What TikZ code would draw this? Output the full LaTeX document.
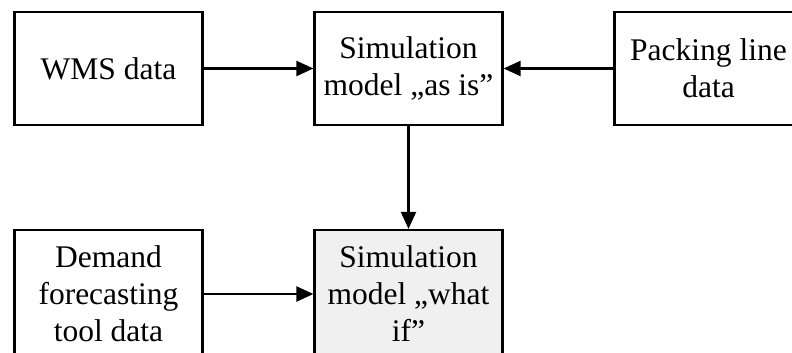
\documentclass[tikz,border=0pt]{standalone}
\usepackage{fontspec}
\setmainfont{Liberation Serif}
\usetikzlibrary{arrows.meta}
\begin{document}
\begin{tikzpicture}[
  block/.style={rectangle, draw, line width=2.2pt, minimum width=188pt, minimum height=113pt, align=center, inner sep=2pt},
  tall/.style={minimum height=128pt},
  link/.style={-{Triangle[length=17pt,width=15pt]}, line width=2.2pt},
  node distance=300pt,
  font=\fontsize{31.5}{37}\selectfont
]
\clip (0,0) rectangle (792pt,-353pt);
\fill[white] (0,0) rectangle (792pt,-353pt);
\node[block] (wms) at (108.5pt,-68.5pt) {WMS data};
\node[block, right of=wms] (asis) {Simulation\\model „as is”};
\node[block, right of=asis] (packing) {Packing line\\data};
\node[block, tall, fill=gray!12, below of=asis, node distance=225.5pt] (whatif) {Simulation\\model „what\\if”};
\node[block, tall, left of=whatif] (demand) {Demand\\forecasting\\tool data};

\draw[link] (wms) -- (asis);
\draw[link] (packing) -- (asis);
\draw[link] (asis) -- (whatif);
\draw[link] (demand) -- (whatif);
\end{tikzpicture}
\end{document}
